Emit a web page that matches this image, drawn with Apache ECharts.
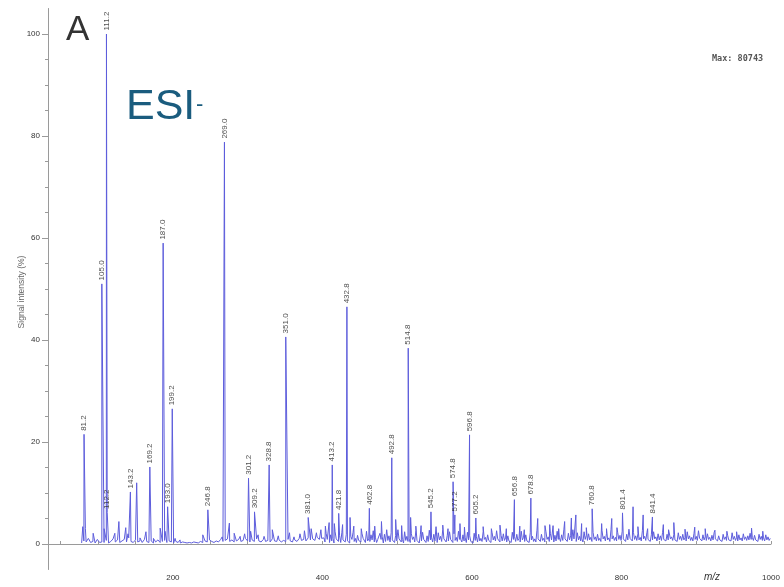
<!DOCTYPE html>
<html>
<head>
<meta charset="utf-8">
<title>ESI- mass spectrum</title>
<script src="https://cdn.jsdelivr.net/npm/echarts@6/dist/echarts.min.js"></script>
<style>
  html, body { margin: 0; padding: 0; background: #ffffff; }
  #chart { width: 784px; height: 587px; }
</style>
</head>
<body>
<div id="chart"></div>
<script>
// Labelled peaks (m/z and relative intensity, %)
const peakMz  = [81.2, 105.0, 111.2, 112.2, 143.2, 169.2, 187.0, 193.0, 199.2, 246.8,
                 269.0, 301.2, 309.2, 328.8, 351.0, 381.0, 413.2, 421.8, 432.8, 462.8,
                 492.8, 514.8, 545.2, 574.8, 577.2, 596.8, 605.2, 656.8, 678.8, 760.8,
                 801.4, 841.4];
const peakInt = [21.5, 51.0, 100, 6.2, 10.2, 15.1, 59.0, 7.3, 26.5, 6.7,
                 78.8, 12.9, 6.3, 15.5, 40.6, 5.2, 15.5, 6.0, 46.5, 7.0,
                 16.9, 38.4, 6.3, 12.2, 5.7, 21.4, 5.1, 8.7, 9.0, 6.9,
                 6.1, 5.3];

// Smaller unlabelled peaks
const minorMz  = [79.5, 83.0, 93.4, 99.5, 108.0, 122.4, 127.8, 137.0, 140.0, 151.6,
                  156.0, 164.0, 174.0, 183.0, 189.5, 203.0, 209.6, 240.0, 250.0, 266.0,
                  275.6, 282.0, 290.0, 296.0, 304.0, 314.0, 322.0, 333.0, 341.0, 356.0,
                  362.0, 370.0, 376.0, 385.0, 392.0, 398.0, 404.0, 409.0, 416.0, 427.0,
                  437.0, 442.0, 452.0, 470.0, 479.0, 486.0, 498.0, 506.0, 518.0, 525.0,
                  532.0, 552.0, 561.0, 568.0, 584.0, 590.0, 615.0, 626.0, 637.5, 646.0,
                  664.0, 670.0, 688.0, 697.7, 704.0, 708.5, 716.0, 724.0, 733.0, 739.0,
                  746.7, 753.0, 773.5, 780.0, 787.0, 794.0, 815.5, 822.0, 829.0, 835.0,
                  856.0, 863.0, 870.0, 885.0, 898.0, 912.0, 925.0, 941.0, 954.0, 974.0,
                  989.0];
const minorInt = [3.4, 3.0, 2.1, 1.2, 3.0, 2.1, 4.4, 3.2, 2.0, 12.0,
                  1.2, 2.4, 1.1, 3.1, 2.5, 1.1, 0.8, 1.8, 1.1, 1.4,
                  4.1, 2.1, 1.5, 2.0, 2.5, 1.8, 1.5, 2.8, 1.6, 2.2,
                  1.4, 2.0, 2.6, 3.0, 2.2, 2.8, 3.5, 4.2, 4.0, 3.8,
                  5.2, 3.5, 3.0, 3.5, 4.4, 2.8, 4.8, 3.6, 5.2, 3.5,
                  3.6, 3.4, 3.7, 3.0, 4.0, 3.3, 3.4, 3.0, 3.7, 3.0,
                  3.5, 2.8, 5.0, 3.6, 3.8, 3.6, 3.0, 4.4, 5.1, 5.7,
                  4.0, 3.2, 4.0, 3.0, 5.0, 3.2, 7.3, 3.4, 5.7, 3.0,
                  3.8, 2.8, 4.2, 2.9, 3.3, 3.0, 2.7, 2.5, 2.4, 3.1,
                  2.5];

// Baseline trace, m/z 78 to 399 every 3 units (%)
const baseLowStart = 78;
const baseLow = [
  0.2, 0.6, 0.4, 1.1, 0.3, 0.5, 0.2, 0.9, 0.3, 0.4,
  0.3, 0.7, 0.2, 0.5, 1.0, 0.4, 0.8, 0.3, 0.6, 0.9,
  0.4, 1.2, 0.5, 0.3, 0.8, 0.4, 0.6, 0.3, 0.9, 0.5,
  0.3, 0.6, 0.2, 0.4, 0.8, 0.3, 0.5, 0.7, 0.3, 0.6,
  0.4, 0.2, 0.5, 0.3, 0.2, 0.4, 0.3, 0.2, 0.3, 0.2,
  0.4, 0.3, 0.2, 0.5, 0.3, 0.6, 0.4, 0.8, 0.5, 0.3,
  0.6, 0.4, 0.9, 0.5, 0.7, 1.0, 0.5, 0.8, 0.4, 0.6,
  0.9, 0.5, 0.7, 1.1, 0.6, 0.4, 0.8, 0.5, 1.0, 0.6,
  0.4, 0.9, 0.5, 0.7, 0.4, 1.0, 0.6, 0.5, 0.8, 0.4,
  0.7, 0.5, 0.9, 0.6, 0.4, 0.8, 0.5, 1.1, 0.7, 0.9,
  0.6, 1.2, 0.8, 1.0, 0.7, 1.3, 0.9, 1.1
];

// Baseline trace, m/z 402 to 999 every 3 units (%)
const baseHighStart = 402;
const baseHigh = [
  1.2, 2.1, 0.8, 1.8, 1.1, 2.4, 0.9, 1.6, 2.2, 1.0,
  1.9, 0.7, 1.5, 2.3, 1.1, 1.7, 0.8, 2.0, 1.3, 2.5,
  1.0, 1.8, 2.6, 1.2, 0.9, 2.1, 1.4, 1.9, 0.8, 1.6,
  2.2, 1.1, 1.7, 2.8, 1.3, 0.9, 2.4, 1.5, 1.0, 2.0,
  1.4, 2.6, 1.0, 1.8, 2.3, 0.9, 1.6, 2.7, 1.2, 1.9,
  0.8, 2.2, 1.5, 2.9, 1.1, 1.7, 2.4, 1.0, 2.0, 1.3,
  2.5, 0.9, 1.8, 1.2, 2.3, 1.6, 0.8, 2.1, 1.4, 1.9,
  1.1, 2.4, 1.3, 1.8, 0.9, 2.2, 1.5, 2.6, 1.0, 1.7,
  2.0, 1.2, 1.6, 0.8, 2.3, 1.4, 1.9, 1.1, 2.5, 1.3,
  1.8, 0.9, 2.2, 1.5, 1.0, 2.7, 1.3, 1.9, 1.1, 2.4,
  1.4, 2.0, 0.9, 1.7, 2.5, 1.2, 1.8, 2.9, 1.3, 2.1,
  1.6, 2.8, 1.2, 2.2, 1.5, 1.0, 2.4, 1.7, 2.0, 1.3,
  2.3, 1.4, 1.9, 1.1, 2.6, 1.5, 2.1, 1.2, 2.8, 1.6,
  1.3, 2.2, 1.7, 2.5, 1.2, 1.9, 2.9, 1.4, 2.3, 1.6,
  2.0, 1.3, 2.6, 1.5, 2.2, 1.1, 1.8, 2.4, 1.4, 2.0,
  1.6, 2.3, 1.2, 1.9, 2.5, 1.4, 1.8, 1.1, 2.2, 1.5,
  1.9, 1.2, 2.4, 1.6, 1.3, 2.1, 1.5, 2.6, 1.2, 1.8,
  1.4, 2.0, 1.3, 1.7, 2.3, 1.2, 1.6, 1.0, 1.9, 1.4,
  1.7, 1.1, 2.2, 1.5, 1.3, 1.8, 1.2, 2.0, 1.4, 1.6,
  2.1, 1.3, 1.7, 1.0, 1.9, 1.5, 1.2, 1.8, 1.4, 1.1
];

// Baseline troughs between the points above, m/z 403.5 to 997.5 every 3 units (%)
const baseMidStart = 403.5;
const baseMid = [
  0.4, 0.9, 0.3, 0.6, 0.2, 1.0, 0.5, 0.3, 0.8, 0.4,
  0.6, 0.2, 0.9, 0.5, 0.3, 0.7, 0.4, 1.1, 0.3, 0.6,
  0.5, 0.8, 0.4, 0.3, 0.6, 0.9, 0.2, 0.5, 0.7, 0.4,
  0.8, 0.3, 0.6, 1.0, 0.4, 0.2, 0.7, 0.5, 0.3, 0.9,
  0.4, 0.7, 0.2, 0.6, 0.9, 0.3, 0.5, 0.8, 0.4, 0.6,
  0.3, 0.8, 0.5, 1.0, 0.4, 0.6, 0.9, 0.3, 0.7, 0.5,
  0.9, 0.4, 0.6, 0.3, 0.8, 0.5, 0.2, 0.7, 0.4, 0.6,
  0.5, 0.9, 0.4, 0.7, 0.3, 0.8, 0.6, 1.0, 0.4, 0.6,
  0.7, 0.4, 0.6, 0.3, 0.9, 0.5, 0.7, 0.4, 0.8, 0.5,
  0.6, 0.3, 0.8, 0.5, 0.4, 1.0, 0.5, 0.7, 0.4, 0.9,
  0.5, 0.8, 0.4, 0.6, 0.9, 0.5, 0.7, 1.0, 0.5, 0.8,
  0.6, 1.0, 0.5, 0.8, 0.6, 0.4, 0.9, 0.7, 0.8, 0.5,
  0.9, 0.6, 0.7, 0.5, 1.0, 0.6, 0.8, 0.5, 1.0, 0.7,
  0.6, 0.9, 0.7, 1.0, 0.5, 0.8, 1.1, 0.6, 0.9, 0.7,
  0.8, 0.6, 1.0, 0.7, 0.9, 0.5, 0.8, 1.0, 0.6, 0.8,
  0.7, 0.9, 0.6, 0.8, 1.0, 0.7, 0.8, 0.5, 0.9, 0.7,
  0.8, 0.6, 1.0, 0.7, 0.6, 0.9, 0.7, 1.1, 0.6, 0.8,
  0.7, 0.9, 0.6, 0.8, 1.0, 0.6, 0.8, 0.5, 0.9, 0.7,
  0.8, 0.6, 0.9, 0.7, 0.6, 0.8, 0.6, 0.9, 0.7, 0.8,
  0.9, 0.7, 0.8, 0.5, 0.9, 0.7, 0.6, 0.8, 0.7
];
const baseStep = 3;

// Axis labels
const xTickLabels = [200, 400, 600, 800, 1000];
const yTickLabels = [0, 20, 40, 60, 80, 100];

// Assemble the profile trace in m/z order
const trace = [];
baseLow.forEach((v, i) => trace.push([baseLowStart + i * baseStep, v]));
baseHigh.forEach((v, i) => trace.push([baseHighStart + i * baseStep, v]));
baseMid.forEach((v, i) => trace.push([baseMidStart + i * baseStep, v]));
minorMz.forEach((m, i) => trace.push([m, minorInt[i]]));
peakMz.forEach((m, i) => trace.push([m, peakInt[i]]));
trace.sort((a, b) => a[0] - b[0]);

const labelled = peakMz.map((m, i) => [m, peakInt[i]]);

// Tick positions
const xTicks = [];
for (let v = 50; v <= 1000; v += 50) xTicks.push(v);
const yMinorTicks = [];
for (let v = 0; v <= 100; v += 5) yMinorTicks.push(v);

const font = 'Liberation Sans, Arial, sans-serif';

const chart = echarts.init(document.getElementById('chart'), null, { renderer: 'canvas' });
chart.setOption({
  animation: false,
  backgroundColor: '#ffffff',
  grid: { left: 48, right: 13, top: 8.5, bottom: 17.5, containLabel: false },
  xAxis: {
    type: 'value',
    min: 33,
    max: 1000,
    axisLine: { show: true, lineStyle: { color: '#9a9a9a', width: 1 } },
    axisTick: { show: true, inside: true, length: 3, customValues: xTicks,
                lineStyle: { color: '#9a9a9a' } },
    axisLabel: { show: true, customValues: xTickLabels, margin: 4,
                 fontSize: 8, color: '#333', fontFamily: font,
                 formatter: v => String(v) },
    splitLine: { show: false }
  },
  yAxis: [
    {
      type: 'value',
      min: -5,
      max: 105,
      axisLine: { show: true, lineStyle: { color: '#9a9a9a', width: 1 } },
      axisTick: { show: true, length: 6, customValues: yTickLabels,
                  lineStyle: { color: '#9a9a9a' } },
      axisLabel: { show: true, customValues: yTickLabels, margin: 8,
                   fontSize: 8, color: '#333', fontFamily: font },
      splitLine: { show: false }
    },
    {
      type: 'value',
      min: -5,
      max: 105,
      position: 'left',
      axisLine: { show: false },
      axisTick: { show: true, length: 3, customValues: yMinorTicks,
                  lineStyle: { color: '#9a9a9a' } },
      axisLabel: { show: false },
      splitLine: { show: false }
    }
  ],
  series: [
    {
      type: 'line',
      data: trace,
      showSymbol: false,
      symbol: 'none',
      sampling: null,
      lineStyle: { color: '#5d5ddc', width: 1 },
      z: 2
    },
    {
      type: 'scatter',
      data: labelled,
      symbolSize: 1,
      itemStyle: { color: 'rgba(0,0,0,0)' },
      label: {
        show: true,
        position: 'top',
        distance: 3,
        rotate: 90,
        align: 'left',
        verticalAlign: 'middle',
        fontSize: 8,
        color: '#222',
        fontFamily: font,
        formatter: p => p.value[0].toFixed(1)
      },
      z: 3
    }
  ],
  graphic: [
    { type: 'text', x: 22, y: 292, rotation: Math.PI / 2,
      style: { text: 'Signal intensity (%)', fontSize: 8.5, fill: '#666', fontFamily: font,
               align: 'center', verticalAlign: 'middle' } },
    { type: 'text', left: 66, top: 13,
      style: { text: 'A', fontSize: 35, fill: '#333', fontFamily: font } },
    { type: 'text', left: 126, top: 86,
      style: { text: 'ESI', fontSize: 43, fill: '#1a5c7e', fontFamily: font } },
    { type: 'text', left: 196, top: 94,
      style: { text: '-', fontSize: 22, fill: '#1a5c7e', fontFamily: font } },
    { type: 'text', left: 712, top: 54,
      style: { text: 'Max: 80743', fontSize: 8.5, fill: '#555', fontWeight: 'bold',
               fontFamily: 'DejaVu Sans Mono, monospace' } },
    { type: 'text', left: 704, top: 572,
      style: { text: 'm/z', fontSize: 10, fill: '#333', fontStyle: 'italic', fontFamily: font } }
  ]
});
</script>
</body>
</html>
